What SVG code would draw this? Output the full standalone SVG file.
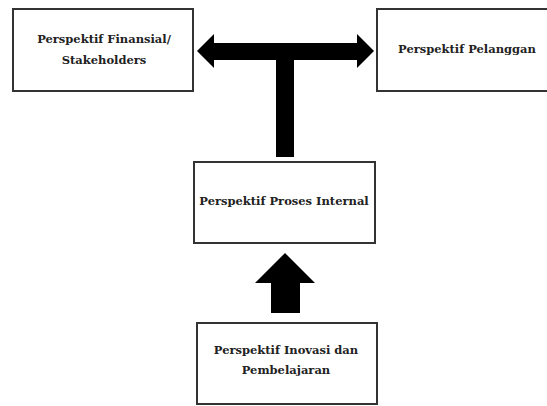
<svg xmlns="http://www.w3.org/2000/svg" width="547" height="406" viewBox="0 0 547 406">
<style>
.box{fill:#fff;stroke:#333;stroke-width:2}
.lbl{font-family:"DejaVu Serif","Liberation Serif",serif;font-weight:bold;font-size:11.5px;fill:#222;text-anchor:middle}
.conn{fill:#000;stroke:none}
</style>
<rect width="547" height="406" fill="#fff"/>
<g id="financial">
<rect class="box" x="13" y="9" width="180" height="82"/>
<text class="lbl" x="104" y="43">Perspektif Finansial/</text>
<text class="lbl" x="104" y="64">Stakeholders</text>
</g>
<g id="pelanggan">
<rect class="box" x="377" y="9" width="176" height="82"/>
<text class="lbl" x="467" y="53">Perspektif Pelanggan</text>
</g>
<g id="proses">
<rect class="box" x="194" y="162" width="181" height="81"/>
<text class="lbl" x="284" y="205">Perspektif Proses Internal</text>
</g>
<g id="inovasi">
<rect class="box" x="197" y="323" width="180" height="81"/>
<text class="lbl" x="286" y="354">Perspektif Inovasi dan</text>
<text class="lbl" x="286" y="374">Pembelajaran</text>
</g>
<g id="connectors">
<polygon class="conn" points="197,51 214,34 214,43 357,43 357,34 374,51 357,68 357,60 294,60 294,157 276,157 276,60 214,60 214,68"/>
<polygon class="conn" points="285,253 315,283 300,283 300,313 271,313 271,283 255,283"/>
</g>
</svg>
